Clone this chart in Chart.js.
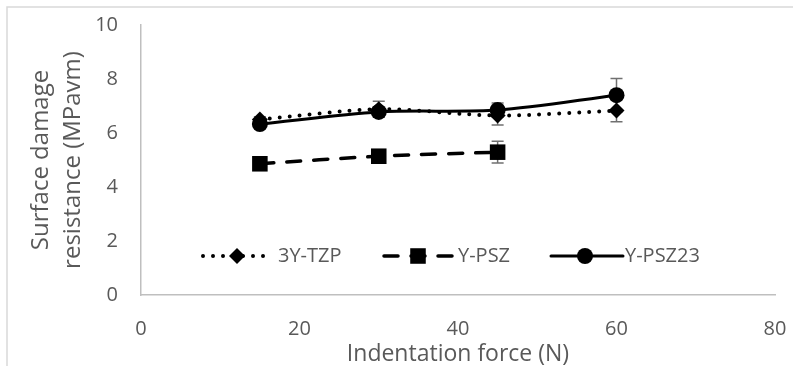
<!DOCTYPE html>
<html>
<head>
<meta charset="utf-8">
<script src="https://cdn.jsdelivr.net/npm/chart.js@4/dist/chart.umd.min.js"></script>
<style>
  html, body { margin: 0; padding: 0; background: #fff; }
  #wrap { width: 793px; height: 366px; position: relative; }
</style>
</head>
<body>
<div id="wrap"><canvas id="chart"></canvas></div>
<script>
// indentation force (N)
const forces = [15, 30, 45, 60];

// surface damage resistance + error bars, per material
const tzpValues = [6.5, 6.88, 6.65, 6.83];
const tzpErrors = [0.1, 0.3, 0.35, 0.41];
const pszValues = [4.86, 5.14, 5.29];
const pszErrors = [0.05, 0.05, 0.4];
const psz23Values = [6.33, 6.78, 6.85, 7.4];
const psz23Errors = [0.1, 0.1, 0.26, 0.62];

const xTicks = [0, 20, 40, 60, 80];
const yTicks = [0, 2, 4, 6, 8, 10];

const textGray = '#595959';
const axisGray = '#bfbfbf';
const FONT = "'Open Sans', sans-serif";

const toPoints = (vals) => vals.map((v, i) => ({ x: forces[i], y: v }));

// keep tick labels from pushing the plot area around
const noLabelPadding = (s) => {
  s.paddingTop = 0; s.paddingBottom = 0; s.paddingLeft = 0; s.paddingRight = 0;
};

// error bars drawn under the markers
const errorBars = {
  id: 'errorBars',
  beforeDatasetsDraw(chart) {
    const { ctx, scales: { x, y } } = chart;
    ctx.save();
    ctx.strokeStyle = '#707070';
    ctx.lineWidth = 1.5;
    chart.data.datasets.forEach(ds => {
      ds.data.forEach((p, i) => {
        const e = ds.errors[i];
        const px = x.getPixelForValue(p.x);
        const top = y.getPixelForValue(p.y + e);
        const bot = y.getPixelForValue(p.y - e);
        ctx.beginPath();
        ctx.moveTo(px, top); ctx.lineTo(px, bot);
        ctx.moveTo(px - 6, top); ctx.lineTo(px + 6, top);
        ctx.moveTo(px - 6, bot); ctx.lineTo(px + 6, bot);
        ctx.stroke();
      });
    });
    ctx.restore();
  }
};

// legend sits inside the plot, Excel style
const inlineLegend = {
  id: 'inlineLegend',
  afterDatasetsDraw(chart) {
    const { ctx } = chart;
    const yc = 256;
    const items = [
      { ds: 0, x0: 203, x1: 269, mx: 237, tx: 278 },
      { ds: 1, x0: 384, x1: 453, mx: 418, tx: 458 },
      { ds: 2, x0: 551, x1: 623, mx: 585, tx: 625 }
    ];
    ctx.save();
    items.forEach(it => {
      const ds = chart.data.datasets[it.ds];
      ctx.strokeStyle = '#000';
      ctx.lineWidth = ds.borderWidth;
      ctx.lineCap = ds.borderCapStyle;
      ctx.setLineDash(ds.borderDash || []);
      ctx.beginPath();
      ctx.moveTo(it.x0, yc); ctx.lineTo(it.x1, yc);
      ctx.stroke();
      ctx.setLineDash([]);
      ctx.fillStyle = '#000';
      Chart.helpers.drawPoint(ctx, { pointStyle: ds.pointStyle, radius: ds.pointRadius, borderWidth: 0 }, it.mx, yc);
      ctx.fillStyle = textGray;
      ctx.font = `20px ${FONT}`;
      ctx.textBaseline = 'middle';
      ctx.fillText(ds.label, it.tx, yc);
    });
    ctx.restore();
  }
};

// light frame on the left and top edge
const frame = {
  id: 'frame',
  beforeDraw(chart) {
    const { ctx } = chart;
    ctx.save();
    ctx.strokeStyle = '#d9d9d9';
    ctx.lineWidth = 1.5;
    ctx.beginPath();
    ctx.moveTo(7, 366); ctx.lineTo(7, 7); ctx.lineTo(793, 7);
    ctx.stroke();
    ctx.restore();
  }
};

new Chart(document.getElementById('chart'), {
  type: 'line',
  data: {
    datasets: [
      {
        label: '3Y-TZP', data: toPoints(tzpValues), errors: tzpErrors,
        borderColor: '#000', backgroundColor: '#000', borderWidth: 4,
        borderDash: [0, 10], borderCapStyle: 'round', tension: 0.3,
        pointStyle: 'rectRot', pointRadius: 8, pointBorderWidth: 0
      },
      {
        label: 'Y-PSZ', data: toPoints(pszValues), errors: pszErrors,
        borderColor: '#000', backgroundColor: '#000', borderWidth: 3.5,
        borderDash: [14, 13], borderCapStyle: 'round', tension: 0.3,
        pointStyle: 'rect', pointRadius: 11, pointBorderWidth: 0
      },
      {
        label: 'Y-PSZ23', data: toPoints(psz23Values), errors: psz23Errors,
        borderColor: '#000', backgroundColor: '#000', borderWidth: 3,
        borderCapStyle: 'round', tension: 0.3,
        pointStyle: 'circle', pointRadius: 8, pointBorderWidth: 0
      }
    ]
  },
  options: {
    responsive: true,
    maintainAspectRatio: false,
    animation: false,
    layout: { padding: { left: 0, right: 18, top: 25, bottom: 0 } },
    plugins: { legend: { display: false }, tooltip: { enabled: false } },
    scales: {
      x: {
        type: 'linear', min: 0, max: 80,
        afterBuildTicks: s => { s.ticks = xTicks.map(v => ({ value: v })); },
        afterFit: s => { s.height = 71; noLabelPadding(s); },
        grid: { display: false, drawTicks: false },
        border: { display: true, color: axisGray, width: 1.5 },
        ticks: { color: textGray, font: { family: FONT, size: 20 }, padding: 22, maxRotation: 0 },
        title: {
          display: true, text: 'Indentation force (N)', color: textGray,
          font: { family: FONT, size: 23, lineHeight: 1.0 }, padding: { top: 0, bottom: 0 }
        }
      },
      y: {
        min: 0, max: 10,
        afterBuildTicks: s => { s.ticks = yTicks.map(v => ({ value: v })); },
        afterFit: s => { s.width = 141; noLabelPadding(s); },
        grid: { display: false, drawTicks: false },
        border: { display: true, color: axisGray, width: 1.5 },
        ticks: { color: textGray, font: { family: FONT, size: 20 }, padding: 23 },
        title: {
          display: true, text: ['Surface damage', 'resistance (MPavm)'], color: textGray,
          font: { family: FONT, size: 24, lineHeight: 1.3 }, padding: { top: 26, bottom: 0 }
        }
      }
    }
  },
  plugins: [frame, errorBars, inlineLegend]
});
</script>
</body>
</html>
